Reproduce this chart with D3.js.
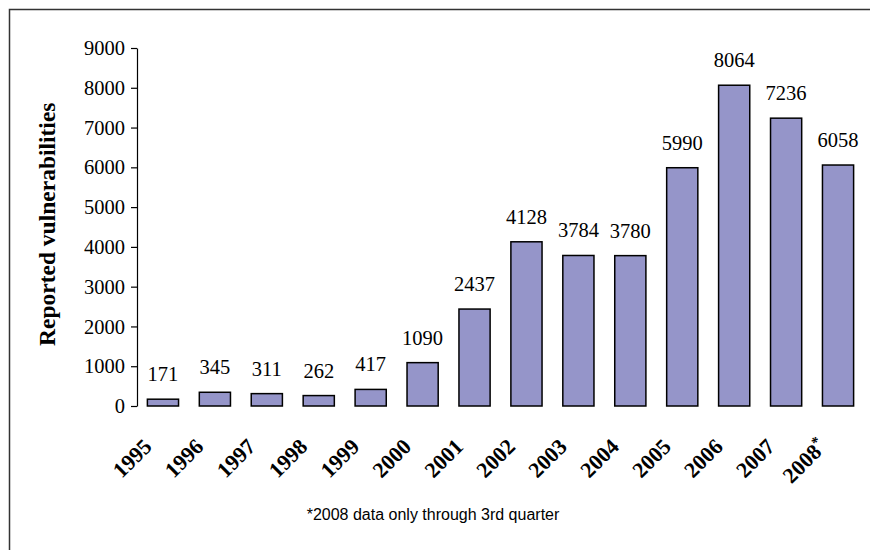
<!DOCTYPE html>
<html>
<head>
<meta charset="utf-8">
<script src="https://cdn.jsdelivr.net/npm/d3@7"></script>
<style>
  body { margin: 0; background: #fff; }
  svg { display: block; }
</style>
</head>
<body>
<div id="chart"></div>
<script>
// data
var years = ['1995', '1996', '1997', '1998', '1999', '2000', '2001', '2002', '2003', '2004', '2005', '2006', '2007', '2008'];
var counts = [171, 345, 311, 262, 417, 1090, 2437, 4128, 3784, 3780, 5990, 8064, 7236, 6058];
var yTicks = [0, 1000, 2000, 3000, 4000, 5000, 6000, 7000, 8000, 9000];
var yLabel = 'Reported vulnerabilities';
var footnote = '*2008 data only through 3rd quarter';

var width = 870, height = 550;
var margin = { top: 48, left: 137, bottom: 144, right: 6 };
var serif = '"Liberation Serif", "Times New Roman", serif';

var svg = d3.select('#chart').append('svg')
  .attr('width', width)
  .attr('height', height);

//frame (top and left only)
svg.append('path')
  .attr('d', 'M9.5,' + height + 'V9.5H' + width)
  .attr('fill', 'none')
  .attr('stroke', '#333')
  .attr('stroke-width', 1.5);

var x = d3.scaleBand()
  .domain(years)
  .range([margin.left, width - margin.right])
  .paddingInner(0.4)
  .paddingOuter(0.2);

var y = d3.scaleLinear()
  .domain([0, 9000])
  .range([height - margin.bottom, margin.top]);

//y axis
var yAxis = svg.append('g')
  .attr('transform', 'translate(' + margin.left + ',0)')
  .call(d3.axisLeft(y).tickValues(yTicks).tickFormat(d3.format('d')).tickSize(6).tickSizeOuter(0).tickPadding(6));

yAxis.select('.domain').attr('stroke', '#000').attr('stroke-width', 1.2);
yAxis.selectAll('.tick line').attr('stroke', '#000').attr('stroke-width', 1.2);
yAxis.selectAll('.tick text')
  .style('font-family', serif)
  .style('font-size', '20.5px')
  .attr('fill', '#000');

//bars
var rows = years.map(function(yr, i) { return { year: yr, value: counts[i] }; });

svg.append('g').selectAll('rect')
  .data(rows)
  .enter().append('rect')
  .attr('x', function(d) { return x(d.year); })
  .attr('y', function(d) { return y(d.value); })
  .attr('width', x.bandwidth())
  .attr('height', function(d) { return y(0) - y(d.value); })
  .attr('fill', '#9595C9')
  .attr('stroke', '#000')
  .attr('stroke-width', 1.5);

//value labels
svg.append('g').selectAll('text')
  .data(rows)
  .enter().append('text')
  .attr('x', function(d) { return x(d.year) + x.bandwidth() / 2; })
  .attr('y', function(d) { return y(d.value) - 18; })
  .attr('text-anchor', 'middle')
  .style('font-family', serif)
  .style('font-size', '20.5px')
  .text(function(d) { return d.value; });

//x labels, rotated
var xl = svg.append('g').selectAll('text')
  .data(years)
  .enter().append('text')
  .attr('text-anchor', 'end')
  .style('font-family', serif)
  .style('font-weight', 'bold')
  .style('font-size', '22px')
  .attr('transform', function(d) {
    return 'translate(' + (x(d) + x.bandwidth() / 2 - 10) + ',' + (y(0) + 42) + ') rotate(-45)';
  });

xl.append('tspan').text(function(d) { return d; });
xl.filter(function(d, i) { return i === years.length - 1; })
  .append('tspan')
  .style('font-size', '15px')
  .attr('dy', -8)
  .text('*');

//y label, clipped like in the original
svg.append('clipPath').attr('id', 'ylabclip')
  .append('rect').attr('x', 0).attr('y', 103).attr('width', 120).attr('height', 400);

svg.append('g')
  .attr('clip-path', 'url(#ylabclip)')
  .append('text')
  .attr('transform', 'translate(55,346) rotate(-90)')
  .attr('text-anchor', 'start')
  .style('font-family', serif)
  .style('font-weight', 'bold')
  .style('font-size', '23.5px')
  .text(yLabel);

//footnote
svg.append('text')
  .attr('x', 433)
  .attr('y', 520)
  .attr('text-anchor', 'middle')
  .style('font-family', '"Liberation Sans", Arial, sans-serif')
  .style('font-size', '16px')
  .text(footnote);
</script>
</body>
</html>
